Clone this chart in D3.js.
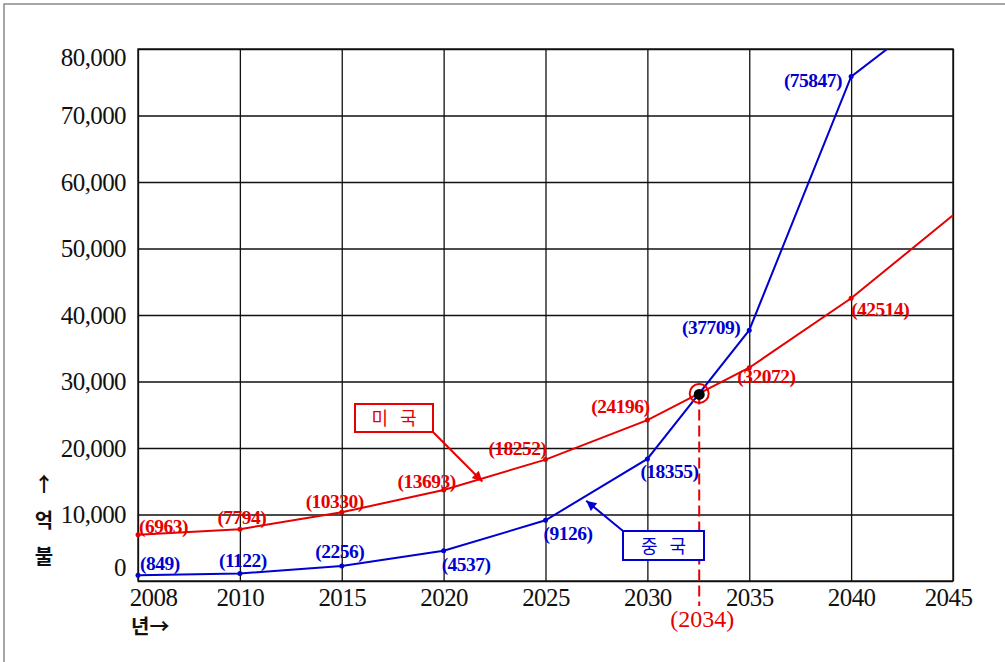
<!DOCTYPE html>
<html>
<head>
<meta charset="utf-8">
<script src="https://cdn.jsdelivr.net/npm/d3@7"></script>
<style>
  body { margin: 0; background: #fff; }
  svg { display: block; }
</style>
</head>
<body>
<svg id="chart"></svg>
<script>
const years = [2008, 2010, 2015, 2020, 2025, 2030, 2035, 2040, 2045];
const yTicks = [0, 10000, 20000, 30000, 40000, 50000, 60000, 70000, 80000];

// 미국 / 중국 GDP (억 불); the 2045 values are the unlabeled line ends
const usValues = [6963, 7794, 10330, 13693, 18252, 24196, 32072, 42514, 55000];
const cnValues = [849, 1122, 2256, 4537, 9126, 18355, 37709, 75847, 87600];
const labeledCount = 8;

const usName = "미 국";
const cnName = "중 국";
const crossLabel = "(2034)";

const W = 1005, H = 662;
const m = { left: 138, right: 953, top: 49, bottom: 581 };
const red = "#e60000", blue = "#0000d0";
const serif = "'Liberation Serif', 'DejaVu Serif', serif";
const kr = "'Noto Sans CJK KR', sans-serif";

const svg = d3.select("#chart").attr("width", W).attr("height", H);

// picture frame (left and top edges only)
svg.append("path")
  .attr("d", `M4,${H} V4 H${W}`)
  .attr("fill", "none")
  .attr("stroke", "#8a8a8a")
  .attr("stroke-width", 1.5);

const step = (m.right - m.left) / (years.length - 1);
const x = d3.scaleLinear()
  .domain(years)
  .range(years.map((d, i) => m.left + i * step));
const y = d3.scaleLinear().domain([0, 80000]).range([m.bottom, m.top]);

// grid + axes
const yAxis = svg.append("g")
  .attr("transform", `translate(${m.left},0)`)
  .call(d3.axisLeft(y)
    .tickValues(yTicks)
    .tickSize(-(m.right - m.left))
    .tickPadding(12)
    .tickFormat(d3.format(",")));

const xAxis = svg.append("g")
  .attr("transform", `translate(0,${m.bottom})`)
  .call(d3.axisBottom(x)
    .tickValues(years)
    .tickSize(-(m.bottom - m.top))
    .tickPadding(7)
    .tickFormat(d3.format("d")));

[yAxis, xAxis].forEach((g) => {
  g.select(".domain").remove();
  g.selectAll(".tick line").attr("stroke", "#111").attr("stroke-width", 1.3);
  g.selectAll(".tick text")
    .attr("fill", "#111")
    .attr("font-family", serif)
    .attr("font-size", 25)
    .attr("letter-spacing", -0.6);
});
yAxis.selectAll(".tick text")
  .attr("y", (d) => (d === 0 ? -14 : d === 80000 ? 8 : 0));
xAxis.selectAll(".tick text")
  .attr("x", (d) => (d === 2008 ? 15 : d === 2045 ? -5 : 0));

svg.append("rect")
  .attr("x", m.left).attr("y", m.top)
  .attr("width", m.right - m.left).attr("height", m.bottom - m.top)
  .attr("fill", "none")
  .attr("stroke", "#111")
  .attr("stroke-width", 1.4);

// axis titles
svg.append("g")
  .selectAll("text")
  .data(["↑", "억", "불"])
  .join("text")
  .attr("x", 44)
  .attr("y", (d, i) => 492 + i * 36)
  .attr("text-anchor", "middle")
  .attr("font-family", kr)
  .attr("font-weight", "bold")
  .attr("font-size", 20)
  .attr("fill", "#111")
  .text((d) => d);

svg.append("text")
  .attr("x", 131).attr("y", 634)
  .attr("font-family", kr)
  .attr("font-weight", "bold")
  .attr("font-size", 20)
  .attr("fill", "#111")
  .text("년→");

// lines
svg.append("defs").append("clipPath").attr("id", "plot")
  .append("rect")
  .attr("x", m.left).attr("y", m.top)
  .attr("width", m.right - m.left).attr("height", m.bottom - m.top);

const line = d3.line().x((d) => x(d[0])).y((d) => y(d[1]));

const series = [
  { name: usName, values: usValues, color: red },
  { name: cnName, values: cnValues, color: blue },
];

series.forEach((s) => {
  s.points = years.map((yr, i) => [yr, s.values[i]]);
  svg.append("path")
    .datum(s.points)
    .attr("clip-path", "url(#plot)")
    .attr("fill", "none")
    .attr("stroke", s.color)
    .attr("stroke-width", 2)
    .attr("d", line);
  svg.append("g")
    .selectAll("circle")
    .data(s.points.slice(0, labeledCount))
    .join("circle")
    .attr("cx", (d) => x(d[0]))
    .attr("cy", (d) => y(d[1]))
    .attr("r", 2.5)
    .attr("fill", s.color);
});

// value label placement: [dx, dy, anchor]
const usPlace = [
  [1, -2, "start"], [2, -5, "middle"], [-7, -4, "middle"], [-17, -2, "middle"],
  [-28, -5, "middle"], [-27, -7, "middle"], [-12, 15, "start"], [0, 18, "start"],
];
const cnPlace = [
  [2, -5, "start"], [3, -7, "middle"], [-2, -8, "middle"], [-2, 20, "start"],
  [-2, 20, "start"], [-7, 19, "start"], [-9, 4, "end"], [-9, 10, "end"],
];

[[series[0], usPlace], [series[1], cnPlace]].forEach(([s, place]) => {
  svg.append("g")
    .selectAll("text")
    .data(s.points.slice(0, labeledCount))
    .join("text")
    .attr("x", (d, i) => x(d[0]) + place[i][0])
    .attr("y", (d, i) => y(d[1]) + place[i][1])
    .attr("text-anchor", (d, i) => place[i][2])
    .attr("font-family", serif)
    .attr("font-weight", "bold")
    .attr("font-size", 19.5)
    .attr("letter-spacing", -0.5)
    .attr("fill", s.color)
    .text((d) => `(${d[1]})`);
});

// crossing point of the two lines
const diff = usValues.map((v, i) => v - cnValues[i]);
const k = diff.findIndex((d, i) => i > 0 && diff[i - 1] > 0 && d <= 0);
const t = diff[k - 1] / (diff[k - 1] - diff[k]);
const crossYear = years[k - 1] + t * (years[k] - years[k - 1]);
const crossValue = usValues[k - 1] + t * (usValues[k] - usValues[k - 1]);
const cx = x(crossYear), cy = y(crossValue);

svg.append("line")
  .attr("x1", cx).attr("x2", cx)
  .attr("y1", cy).attr("y2", 606)
  .attr("stroke", red)
  .attr("stroke-width", 2)
  .attr("stroke-dasharray", "11,5");

svg.append("circle")
  .attr("cx", cx).attr("cy", cy).attr("r", 9.5)
  .attr("fill", "#fff").attr("fill-opacity", 0)
  .attr("stroke", red).attr("stroke-width", 2);
svg.append("circle")
  .attr("cx", cx).attr("cy", cy + 1).attr("r", 5.5)
  .attr("fill", "#000");

svg.append("text")
  .attr("x", cx + 3).attr("y", 627)
  .attr("text-anchor", "middle")
  .attr("font-family", serif)
  .attr("font-size", 24)
  .attr("fill", red)
  .text(crossLabel);

// legend call-outs with arrows
const defs = svg.select("defs");
series.forEach((s, i) => {
  defs.append("marker")
    .attr("id", `head${i}`)
    .attr("viewBox", "0 0 10 10")
    .attr("refX", 10).attr("refY", 5)
    .attr("markerWidth", 14).attr("markerHeight", 10)
    .attr("markerUnits", "userSpaceOnUse")
    .attr("orient", "auto")
    .append("path")
    .attr("d", "M0,0 L10,5 L0,10 Z")
    .attr("fill", s.color);
});

const onLine = (vals, yr) => {
  const i = d3.bisectRight(years, yr) - 1;
  const f = (yr - years[i]) / (years[i + 1] - years[i]);
  return [x(yr), y(vals[i] + f * (vals[i + 1] - vals[i]))];
};

const callouts = [
  { s: series[0], box: [355, 404, 78, 28], from: [433, 432], tip: onLine(usValues, 2021.9), off: 3 },
  { s: series[1], box: [623, 531, 81, 29], from: [623, 531], tip: onLine(cnValues, 2027), off: 5 },
];

callouts.forEach((c, i) => {
  const [bx, by, bw, bh] = c.box;
  svg.append("rect")
    .attr("x", bx).attr("y", by).attr("width", bw).attr("height", bh)
    .attr("fill", "#fff")
    .attr("stroke", c.s.color)
    .attr("stroke-width", 2);
  svg.append("text")
    .attr("x", bx + bw / 2 + 2).attr("y", by + bh / 2 + 7)
    .attr("text-anchor", "middle")
    .attr("font-family", kr)
    .attr("font-size", 18)
    .attr("letter-spacing", 4)
    .attr("fill", c.s.color)
    .text(c.s.name);
  svg.append("line")
    .attr("x1", c.from[0]).attr("y1", c.from[1])
    .attr("x2", c.tip[0]).attr("y2", c.tip[1] + c.off)
    .attr("stroke", c.s.color)
    .attr("stroke-width", 2)
    .attr("marker-end", `url(#head${i})`);
});
</script>
</body>
</html>
